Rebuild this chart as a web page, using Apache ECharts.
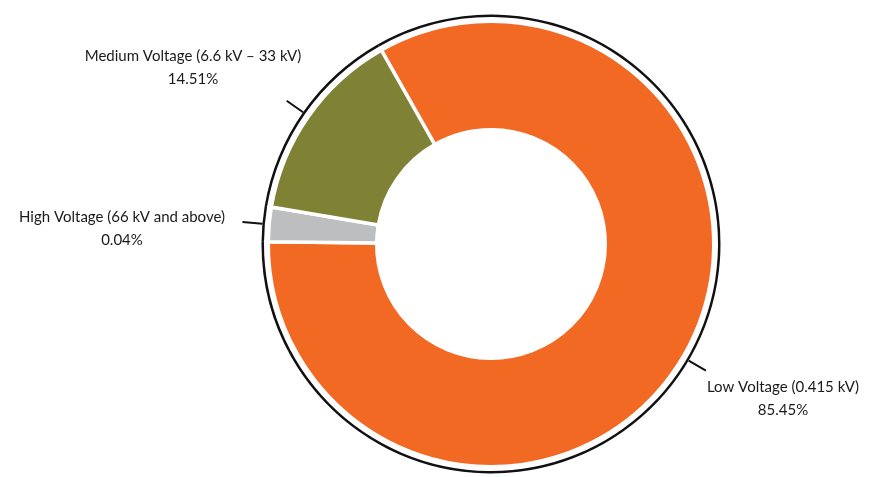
<!DOCTYPE html>
<html>
<head>
<meta charset="utf-8">
<script src="https://cdn.jsdelivr.net/npm/echarts@6/dist/echarts.min.js"></script>
<style>
  html, body { margin: 0; padding: 0; background: #fff; }
  #chart { width: 880px; height: 477px; }
</style>
</head>
<body>
<div id="chart"></div>
<script>
// slices in drawing order (clockwise from startAngle)
const categories = [
  "Low Voltage (0.415 kV)",
  "High Voltage (66 kV and above)",
  "Medium Voltage (6.6 kV \u2013 33 kV)"
];
const shares = [85.45, 0.04, 14.51];
const colors = ["#F26924", "#BCBEC0", "#7F8235"];

const pieData = categories.map((name, i) => ({
  name: name,
  value: shares[i],
  itemStyle: { color: colors[i] }
}));

// where each text block sits (centre of the two-line label)
const labelSpots = [
  [783, 399],
  [122, 229],
  [193, 68]
];

const common = {
  type: "pie",
  center: [491, 244],
  startAngle: 119.5,
  minAngle: 9,
  clockwise: true,
  avoidLabelOverlap: false,
  animation: false
};

const chart = echarts.init(document.getElementById("chart"));
chart.setOption({
  backgroundColor: "#fff",
  series: [
    Object.assign({}, common, {
      name: "ring",
      silent: true,
      radius: [227, 229.5],
      data: pieData.map(d => ({ name: d.name, value: d.value })),
      itemStyle: { color: "#111", borderWidth: 0 },
      label: { show: true, formatter: " ", color: "transparent", fontSize: 1 },
      labelLine: {
        show: true,
        length: 20,
        length2: 0,
        smooth: false,
        lineStyle: { color: "#111", width: 2 }
      }
    }),
    Object.assign({}, common, {
      name: "share",
      radius: [114.25, 222.75],
      data: pieData,
      itemStyle: { borderColor: "#fff", borderWidth: 3.5 },
      label: {
        show: true,
        position: "outside",
        formatter: "{b}\n{d}%",
        fontFamily: "Lato",
        fontSize: 15,
        lineHeight: 23,
        color: "#1a1a1a",
        align: "center"
      },
      labelLine: { show: false },
      labelLayout: function (params) {
        const p = labelSpots[params.dataIndex];
        return { x: p[0], y: p[1], align: "center", verticalAlign: "middle" };
      }
    })
  ]
});

window.addEventListener("resize", () => {
  if (chart) {
    chart.resize();
  }
});
</script>
</body>
</html>
